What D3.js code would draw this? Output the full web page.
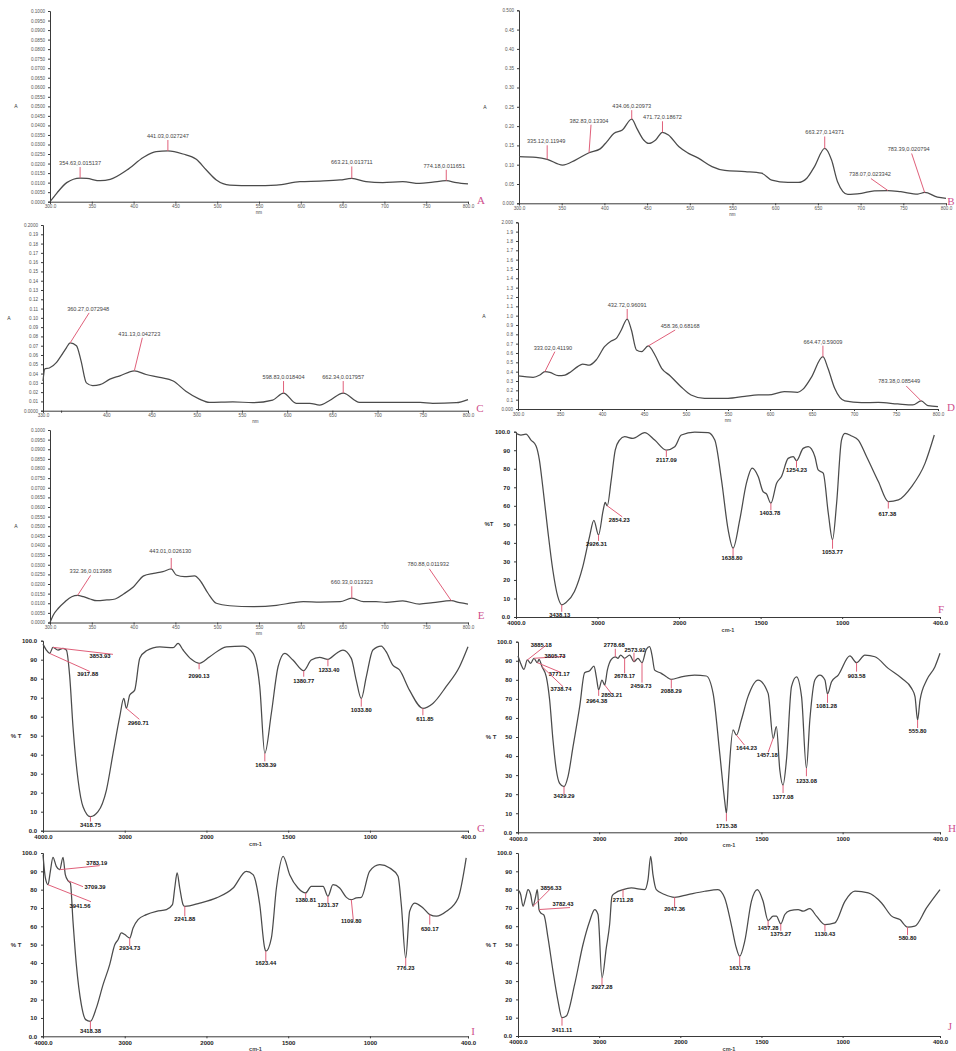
<!DOCTYPE html>
<html>
<head>
<meta charset="utf-8">
<script src="https://cdn.jsdelivr.net/npm/d3@7"></script>
<style>
  body { margin: 0; background: #fff; }
  svg { display: block; }
  text { font-family: "Liberation Sans", Arial, sans-serif; }
</style>
</head>
<body>
<svg id="fig" width="956" height="1051"></svg>
<script>
// tick values
const uvTicks = [300, 350, 400, 450, 500, 550, 600, 650, 700, 750, 800];
const uvTicksC = [330, 350, 400, 450, 500, 550, 600, 650, 700, 750, 800];
const irTicks = [4000, 3000, 2000, 1500, 1000, 400];

// UV-Vis spectra: [wavelength nm, absorbance]
const specA = [[300,0],[308,0.0044],[320,0.0100],[336,0.0124],[344,0.0122],[360,0.0110],[372,0.0117],[392,0.0166],
  [412,0.0233],[427,0.0262],[441,0.0266],[459,0.0250],[475,0.0222],[487,0.0166],[499,0.0114],[515,0.0087],
  [543,0.0084],[571,0.0087],[599,0.0105],[623,0.0108],[647,0.0114],[661,0.0122],[678,0.0105],[698,0.0100],
  [722,0.0105],[742,0.0096],[758,0.0103],[774,0.0110],[786,0.0100],[800,0.0093]];
const specB = [[300,0.121],[320,0.119],[333,0.114],[351,0.099],[366,0.112],[382,0.131],[395,0.141],[403,0.160],
  [411,0.181],[421,0.190],[432,0.218],[438,0.194],[446,0.164],[452,0.155],[460,0.164],[468,0.184],[475,0.177],
  [487,0.147],[498,0.130],[510,0.117],[526,0.095],[541,0.085],[565,0.082],[584,0.078],[596,0.060],[615,0.054],
  [627,0.054],[637,0.065],[646,0.095],[658,0.142],[666,0.112],[673,0.056],[685,0.023],[701,0.026],[716,0.032],
  [732,0.033],[747,0.030],[767,0.024],[775,0.028],[790,0.016],[800,0.013]];
const specC = [[330,0.032],[332,0.045],[337,0.046],[345,0.052],[350,0.059],[356,0.068],[360,0.073],[367,0.070],
  [372,0.054],[378,0.030],[385,0.027],[393,0.028],[404,0.034],[415,0.0375],[431,0.043],[444,0.039],[459,0.036],
  [474,0.032],[488,0.021],[503,0.0125],[514,0.009],[540,0.0096],[562,0.0086],[584,0.0114],[596,0.019],
  [610,0.008],[625,0.008],[636,0.006],[647,0.011],[662,0.019],[680,0.009],[706,0.009],[747,0.009],[761,0.008],
  [787,0.0086],[800,0.012]];
const specD = [[300,0.354],[318,0.339],[326,0.364],[332,0.400],[338,0.393],[348,0.357],[356,0.364],[363,0.400],
  [371,0.454],[377,0.482],[385,0.471],[393,0.525],[403,0.668],[411,0.729],[417,0.757],[423,0.846],[430,0.964],
  [435,0.846],[441,0.632],[447,0.614],[455,0.675],[463,0.579],[471,0.436],[481,0.357],[494,0.239],[506,0.150],
  [522,0.114],[550,0.114],[570,0.136],[586,0.150],[598,0.150],[617,0.186],[633,0.179],[639,0.210],[649,0.336],
  [663,0.561],[669,0.436],[677,0.221],[689,0.086],[709,0.068],[729,0.071],[752,0.054],[770,0.043],[780,0.086],
  [788,0.036],[800,0.025]];
const specE = [[300,0],[304,0.0039],[310,0.0074],[318,0.0108],[326,0.0134],[333,0.0141],[340,0.0134],[348,0.0122],
  [356,0.0113],[368,0.0117],[378,0.0122],[388,0.0148],[400,0.0186],[412,0.0242],[424,0.0255],[435,0.0264],
  [445,0.0278],[451,0.0247],[461,0.0238],[473,0.0242],[479,0.0221],[489,0.0152],[499,0.0100],[515,0.0087],
  [543,0.0082],[571,0.0089],[591,0.0103],[603,0.0108],[623,0.0106],[647,0.0108],[661,0.0126],[675,0.0108],
  [690,0.0108],[702,0.0105],[722,0.0112],[742,0.0096],[758,0.0103],[780,0.0113],[790,0.0103],[800,0.0096]];

// FTIR spectra: [wavenumber cm-1, %T]
const specF = [[4000,99.1],[3939,98.2],[3877,98.7],[3816,95.5],[3754,92.3],[3713,84.7],[3672,70.4],[3611,47.0],
  [3549,25.5],[3488,11.1],[3439,6.6],[3385,7.9],[3283,13.8],[3180,27.3],[3098,43.4],[3045,52.1],[2988,44.3],
  [2930,57.8],[2906,61.8],[2881,60.0],[2832,74.0],[2783,90.1],[2730,95.5],[2668,97.3],[2566,96.4],[2422,99.5],
  [2299,95.5],[2156,90.1],[2053,91.9],[1986,98.2],[1904,99.8],[1822,99.5],[1781,95.5],[1740,74.0],[1699,47.0],
  [1669,37.2],[1628,52.4],[1587,72.2],[1552,80.3],[1515,75.8],[1485,67.7],[1464,66.4],[1437,61.4],[1402,72.2],
  [1372,75.8],[1331,85.6],[1300,86.5],[1280,84.4],[1239,91.0],[1208,91.9],[1167,86.5],[1147,79.4],[1116,77.6],
  [1085,56.0],[1059,41.7],[1034,61.4],[1004,95.5],[983,99.1],[942,97.7],[901,95.5],[850,86.5],[778,73.1],
  [717,62.3],[655,63.2],[574,70.4],[492,82.9],[435,98.2]];
const specG = [[4000,98.2],[3959,95.1],[3918,93.3],[3878,96.5],[3816,95.1],[3755,96.0],[3714,95.1],[3673,81.1],
  [3633,54.7],[3571,26.7],[3510,12.6],[3420,7.4],[3327,10.0],[3224,21.4],[3143,40.7],[3061,60.0],[3012,69.6],
  [2980,64.4],[2939,71.4],[2878,74.0],[2816,90.7],[2735,94.7],[2571,96.8],[2408,96.3],[2347,98.6],[2286,95.1],
  [2184,90.2],[2090,88.1],[1980,91.6],[1878,96.8],[1776,97.2],[1715,93.3],[1674,75.8],[1643,40.7],[1603,61.8],
  [1562,86.3],[1521,93.3],[1471,89.8],[1405,84.2],[1359,89.8],[1308,91.2],[1257,90.2],[1206,93.3],[1165,95.1],
  [1114,90.7],[1084,79.3],[1053,69.5],[1022,81.1],[982,95.1],[931,97.2],[901,94.2],[860,87.2],[819,84.6],
  [758,74.0],[676,64.4],[615,67.0],[534,75.8],[452,86.3],[400,96.8]];
const specH = [[4000,92.5],[3967,88.6],[3926,85.5],[3885,90.4],[3844,88.6],[3803,91.3],[3762,89.0],[3741,90.7],
  [3704,86.9],[3651,81.6],[3610,69.4],[3569,48.4],[3528,32.7],[3487,25.7],[3433,24.0],[3384,29.2],[3322,44.9],
  [3240,65.9],[3179,83.7],[3117,84.8],[3064,87.2],[3035,81.6],[3006,74.7],[2965,79.9],[2932,77.3],[2899,85.1],
  [2850,90.7],[2801,92.1],[2768,91.3],[2735,93.0],[2686,91.3],[2624,93.0],[2571,89.5],[2522,91.3],[2472,89.0],
  [2419,96.0],[2378,97.4],[2349,93.0],[2316,85.1],[2234,83.4],[2172,81.6],[2111,80.2],[1994,81.6],[1912,82.5],
  [1840,82.0],[1798,72.9],[1757,41.4],[1726,16.1],[1716,10.0],[1702,29.2],[1675,53.7],[1654,51.0],[1624,58.9],
  [1583,71.2],[1521,79.9],[1459,72.9],[1428,49.3],[1408,55.4],[1387,32.7],[1367,24.8],[1346,37.9],[1315,76.4],
  [1284,81.6],[1253,71.2],[1223,33.6],[1202,58.9],[1171,79.9],[1140,82.5],[1109,79.9],[1093,72.6],[1068,79.0],
  [1027,82.5],[955,92.5],[914,89.0],[863,93.0],[801,92.1],[719,86.0],[636,80.8],[575,75.5],[554,71.2],
  [538,58.9],[523,69.4],[482,79.9],[431,86.9],[400,93.9]];
const specI = [[4000,99.1],[3971,86.4],[3939,82.7],[3910,90.0],[3878,97.6],[3837,92.7],[3796,90.9],[3755,97.6],
  [3727,88.2],[3694,84.9],[3665,83.6],[3633,62.7],[3592,39.1],[3531,17.3],[3478,9.1],[3420,8.2],[3347,15.5],
  [3265,28.2],[3184,39.1],[3122,50.0],[3082,52.7],[3041,56.4],[3000,55.5],[2939,53.6],[2898,59.1],[2837,63.6],
  [2735,66.4],[2612,68.2],[2490,69.1],[2416,71.8],[2388,80.9],[2359,89.1],[2327,80.9],[2286,71.8],[2265,70.9],
  [2082,72.7],[1939,75.5],[1837,80.9],[1756,90.0],[1715,88.2],[1674,71.8],[1644,48.2],[1637,46.4],[1603,53.6],
  [1572,80.9],[1531,98.2],[1491,88.2],[1440,80.9],[1393,78.2],[1359,81.8],[1287,81.8],[1257,76.4],[1226,82.7],
  [1185,80.9],[1144,75.8],[1114,74.5],[1083,75.5],[1053,75.8],[1002,90.0],[940,93.6],[879,91.8],[828,87.3],
  [808,71.8],[781,42.7],[757,68.2],[726,72.7],[675,70.0],[634,66.4],[593,65.5],[532,68.2],[460,75.5],[411,97.3]];
const specJ = [[4000,80.0],[3967,77.3],[3938,70.9],[3906,75.5],[3877,80.0],[3844,77.3],[3815,70.9],[3786,75.5],
  [3762,80.0],[3741,69.1],[3721,67.3],[3680,66.0],[3630,53.6],[3569,35.5],[3507,19.1],[3458,10.0],[3405,10.9],
  [3302,28.2],[3199,50.0],[3117,62.7],[3055,69.1],[3014,66.4],[2965,31.8],[2912,48.2],[2871,60.9],[2842,76.4],
  [2801,78.2],[2706,80.0],[2604,80.9],[2439,80.0],[2398,85.5],[2365,98.2],[2337,88.2],[2296,80.0],[2193,77.3],
  [2070,75.8],[1953,77.3],[1850,79.1],[1768,80.0],[1727,75.5],[1686,60.9],[1655,48.2],[1634,43.6],[1603,51.8],
  [1562,73.6],[1525,80.0],[1490,73.6],[1459,63.1],[1428,65.5],[1408,65.5],[1381,61.3],[1356,66.4],[1325,68.5],
  [1274,69.1],[1243,68.2],[1202,69.6],[1161,65.5],[1109,60.9],[1048,61.8],[986,73.6],[924,79.1],[842,78.2],
  [760,72.7],[698,65.5],[647,63.6],[600,59.5],[555,60.0],[483,70.0],[400,80.0]];

// picked peaks: [x, y, label]
const peaksA = [[336,0.0124,"354.63,0.015137"],[441,0.0266,"441.03,0.027247"],[661,0.0122,"663.21,0.013711"],[774,0.0110,"774.18,0.011651"]];
const peaksB = [[333,0.114,"335.12,0.11949"],[382,0.131,"382.83,0.13304"],[432,0.218,"434.06,0.20973"],[468,0.184,"471.72,0.18672"],
  [658,0.142,"663.27,0.14371"],[732,0.033,"738.07,0.023342"],[775,0.028,"783.39,0.020794"]];
const peaksC = [[360,0.073,"360.27,0.072948"],[431,0.043,"431.13,0.042723"],[596,0.019,"598.83,0.018404"],[662,0.019,"662.34,0.017957"]];
const peaksD = [[332,0.400,"333.02,0.41190"],[430,0.964,"432.72,0.96091"],[455,0.675,"458.36,0.68168"],[663,0.561,"664.47,0.59009"],[780,0.086,"783.38,0.085449"]];
const peaksE = [[333,0.0141,"332.36,0.013988"],[445,0.0278,"443.01,0.026130"],[661,0.0126,"660.33,0.013323"],[780,0.0113,"780.88,0.011932"]];
const peaksF = [[3439,6.6,"3438.13"],[2988,44.3,"2926.31"],[2881,60.0,"2854.23"],[2156,90.1,"2117.09"],[1669,37.2,"1638.80"],
  [1437,61.4,"1403.78"],[1280,84.4,"1254.23"],[1059,41.7,"1053.77"],[717,62.3,"617.38"]];
const peaksG = [[3918,93.3,"3917.88"],[3878,96.5,"3853.93"],[3420,7.4,"3418.75"],[2980,64.4,"2960.71"],[2090,88.1,"2090.13"],
  [1643,40.7,"1638.39"],[1405,84.2,"1380.77"],[1257,90.2,"1233.40"],[1053,69.5,"1033.80"],[676,64.4,"611.85"]];
const peaksH = [[3885,90.4,"3885.18"],[3803,91.3,"3805.73"],[3762,89.0,"3771.17"],[3704,86.9,"3738.74"],[3433,24.0,"3429.29"],
  [3006,74.7,"2964.38"],[2932,77.3,"2853.21"],[2801,92.1,"2778.68"],[2686,91.3,"2678.17"],[2571,89.5,"2573.92"],
  [2472,89.0,"2459.73"],[2111,80.2,"2088.29"],[1716,10.0,"1715.38"],[1654,51.0,"1644.23"],[1428,49.3,"1457.18"],
  [1367,24.8,"1377.08"],[1223,33.6,"1233.08"],[1093,72.6,"1081.28"],[914,89.0,"903.58"],[538,58.9,"555.80"]];
const peaksI = [[3939,82.7,"3941.56"],[3796,90.9,"3783.19"],[3694,84.9,"3709.39"],[3420,8.2,"3418.38"],[2939,53.6,"2934.73"],
  [2265,70.9,"2241.88"],[1637,46.4,"1623.44"],[1393,78.2,"1380.81"],[1257,76.4,"1231.37"],[1114,74.5,"1109.80"],
  [781,42.7,"776.23"],[634,66.4,"630.17"]];
const peaksJ = [[3815,70.9,"3856.33"],[3741,69.1,"3782.43"],[3458,10.0,"3411.11"],[2965,31.8,"2927.28"],[2706,80.0,"2711.28"],
  [2070,75.8,"2047.36"],[1634,43.6,"1631.78"],[1459,63.1,"1457.28"],[1381,61.3,"1375.27"],[1109,60.9,"1130.43"],[600,59.5,"580.80"]];

// label leader layout, px relative to the peak: [lineDx, lineDy, textDx, textDy]
const leadsA = [[0,-11,0,-13],[0,-11,0,-13],[0,-12,0,-14],[0,-11,-2,-13]];
const leadsB = [[0,-14,-1,-16],[2,-28,0,-30],[0,-9,0,-11],[0,-11,0,-13],[0,-12,0,-14],[-17,-12,-18,-15],[-13,-39,-16,-41]];
const leadsC = [[19,-30,18,-32],[8,-33,5,-35],[0,-12,0,-14],[0,-12,0,-14]];
const leadsD = [[10,-20,8,-22],[0,-10,0,-12],[27,-16,32,-18],[0,-11,0,-13],[-15,-15,-22,-18]];
const leadsE = [[13,-20,13,-22],[0,-11,-1,-16],[0,-12,0,-14],[-22,-32,-23,-35]];
const leadsF = [[0,7,-2,12],[0,6,-2,11],[15,11,12,16],[0,7,0,12],[0,8,-1,12],[0,7,-1,12],[0,7,0,11],[0,9,0,14],[0,7,-1,14]];
const leadsG = [[40,18,38,23],[60,7,47,11],[0,5,0,10],[13,11,12,17],[0,6,0,15],[0,8,1,14],[0,6,0,12],[0,7,1,13],[0,8,0,13],[0,7,2,13]];
const leadsH = [[19,-15,14,-13],[31,-2,21,0],[24,10,22,13],[21,20,19,24],[0,8,0,11],[0,6,-2,13],[7,9,7,12],[0,-8,-1,-10],
  [0,15,0,20],[0,-9,1,-10],[0,20,-1,25],[0,9,0,14],[0,8,0,15],[8,10,10,15],[-5,14,-6,19],[0,8,0,14],[0,8,0,15],
  [0,9,-1,14],[0,9,0,15],[0,8,0,13]];
const leadsI = [[43,17,32,23],[40,-4,37,-5],[15,6,27,8],[0,8,0,12],[0,8,0,12],[0,10,0,15],[0,10,0,14],[0,5,0,9],
  [0,7,0,11],[2,20,0,23],[0,8,0,12],[0,10,0,16]];
const leadsJ = [[17,-17,18,-16],[31,-2,24,-4],[0,8,0,14],[0,8,0,11],[0,8,0,12],[0,10,0,14],[0,10,0,14],[0,7,0,9],
  [0,7,0,12],[0,7,0,11],[0,8,0,13]];

const IR_SPLIT = 2000 / 5200;  // 4000-2000 drawn at half the scale of 2000-400
const curveColor = "#4b4b4b";
const markColor = "#e0607a";
const letterColor = "#cf4f8d";

const endFmt = (dec, mid) => (d, i, arr) => (i === 0 || i === arr.length - 1) ? d.toFixed(dec) : mid(d);

const panels = [
  { key: "A", data: specA, peaks: peaksA, leads: leadsA, box: [50, 468, 11, 201.7], xDom: [300, 800], xTicks: uvTicks,
    yDom: [0, 0.1], yN: 20, yFmt: endFmt(4, d => d.toFixed(4)), letter: [481, 204] },
  { key: "B", data: specB, peaks: peaksB, leads: leadsB, box: [519, 946, 10.3, 203.3], xDom: [300, 800], xTicks: uvTicks,
    yDom: [0, 0.5], yN: 10, yFmt: endFmt(3, d => d.toFixed(2)), letter: [951, 205] },
  { key: "C", data: specC, peaks: peaksC, leads: leadsC, box: [43, 468, 225, 410.7], xDom: [330, 800], xTicks: uvTicksC,
    yDom: [0, 0.2], yN: 20, yFmt: endFmt(4, d => d.toFixed(2)), letter: [480, 412] },
  { key: "D", data: specD, peaks: peaksD, leads: leadsD, box: [518, 938, 222.3, 409], xDom: [300, 800], xTicks: uvTicks,
    yDom: [0, 2], yN: 20, yFmt: endFmt(3, d => d.toFixed(1)), letter: [951, 411] },
  { key: "E", data: specE, peaks: peaksE, leads: leadsE, box: [50, 468, 430, 622.5], xDom: [300, 800], xTicks: uvTicks,
    yDom: [0, 0.1], yN: 20, yFmt: endFmt(4, d => d.toFixed(4)), letter: [481, 619] },
  { key: "F", ir: true, data: specF, peaks: peaksF, leads: leadsF, box: [516, 940, 431.7, 617], letter: [941, 613] },
  { key: "G", ir: true, data: specG, peaks: peaksG, leads: leadsG, box: [43, 468, 640.7, 830.7], letter: [481, 832] },
  { key: "H", ir: true, data: specH, peaks: peaksH, leads: leadsH, box: [518, 940, 641.7, 832.3], letter: [952, 832] },
  { key: "I", ir: true, data: specI, peaks: peaksI, leads: leadsI, box: [43, 468, 853, 1036.3], letter: [473, 1035] },
  { key: "J", ir: true, data: specJ, peaks: peaksJ, leads: leadsJ, box: [518, 940, 853, 1036], letter: [950, 1030] }
];

const svg = d3.select("#fig");
svg.append("rect").attr("width", 956).attr("height", 1051).attr("fill", "#fff");

panels.forEach(p => drawPanel(p));

function drawPanel(p) {
  const [x0, x1, y0, y1] = p.box;
  const g = svg.append("g").attr("class", "panel-" + p.key);

  let x, y, yTicks, xFmt, yFmt;
  if (p.ir) {
    x = d3.scaleLinear().domain([4000, 2000, 400]).range([x0, x0 + (x1 - x0) * IR_SPLIT, x1]);
    y = d3.scaleLinear().domain([0, 100]).range([y1, y0]);
    yTicks = d3.range(0, 11).map(i => i * 10);
    yFmt = (d, i, a) => (d === 0 || d === 100) ? d.toFixed(1) : String(d);
    xFmt = (d, i, a) => (i === 0 || i === a.length - 1) ? d.toFixed(1) : String(d);
  } else {
    x = d3.scaleLinear().domain(p.xDom).range([x0, x1]);
    y = d3.scaleLinear().domain(p.yDom).range([y1, y0]);
    yTicks = d3.range(0, p.yN + 1).map(i => p.yDom[0] + i * (p.yDom[1] - p.yDom[0]) / p.yN);
    yFmt = p.yFmt;
    xFmt = (d, i, a) => (i === 0 || i === a.length - 1) ? d.toFixed(1) : (p.key === "C" && d === 350 ? "" : String(d));
  }
  const xTickVals = p.ir ? irTicks : p.xTicks;

  // y axis
  const ya = g.append("g").attr("transform", `translate(${x0},0)`)
    .call(d3.axisLeft(y).tickValues(yTicks).tickSize(2).tickPadding(p.ir ? 4 : 3)
      .tickFormat((d, i) => yFmt(d, i, yTicks)));
  // x axis
  const xa = g.append("g").attr("transform", `translate(0,${y1})`)
    .call(d3.axisBottom(x).tickValues(xTickVals).tickSize(2).tickPadding(p.ir ? 2 : 1.5)
      .tickFormat((d, i) => xFmt(d, i, xTickVals)));

  [ya, xa].forEach(a => {
    a.select(".domain").attr("stroke", "#3a3a3a").attr("stroke-width", 1);
    a.selectAll(".tick line").attr("stroke", "#3a3a3a");
    a.selectAll(".tick text")
      .attr("fill", p.ir ? "#222" : "#555")
      .style("font-size", p.ir ? "6px" : "4.6px")
      .style("font-weight", p.ir ? "bold" : "normal");
  });

  // axis titles
  g.append("text")
    .attr("x", x0 - (p.ir ? 27 : 34)).attr("y", (y0 + y1) / 2 + 2)
    .attr("text-anchor", "middle")
    .style("font-size", p.ir ? "6px" : "5px")
    .style("font-weight", p.ir ? "bold" : "normal")
    .attr("fill", "#333")
    .text(p.ir ? (p.key === "F" ? "%T" : "% T") : "A");
  g.append("text")
    .attr("x", (x0 + x1) / 2).attr("y", y1 + (p.ir ? 15 : 12.5))
    .attr("text-anchor", "middle")
    .style("font-size", p.ir ? "5.5px" : "4.5px")
    .style("font-weight", p.ir ? "bold" : "normal")
    .attr("fill", "#444")
    .text(p.ir ? "cm-1" : "nm");

  // spectrum
  const line = d3.line().x(d => x(d[0])).y(d => y(d[1])).curve(d3.curveMonotoneX);
  g.append("path")
    .datum(p.data)
    .attr("d", line)
    .attr("fill", "none")
    .attr("stroke", curveColor)
    .attr("stroke-width", 1.25)
    .attr("stroke-linejoin", "round");

  // peak markers and labels
  p.peaks.forEach((pk, i) => {
    const [dx, dy, tx, ty] = p.leads[i];
    const px = x(pk[0]), py = y(pk[1]);
    g.append("line")
      .attr("x1", px).attr("y1", py)
      .attr("x2", px + dx).attr("y2", py + dy)
      .attr("stroke", markColor).attr("stroke-width", 1);
    g.append("text")
      .attr("x", px + tx).attr("y", py + ty)
      .attr("text-anchor", "middle")
      .style("font-size", p.ir ? "5.8px" : "5.6px")
      .style("font-weight", p.ir ? "bold" : "normal")
      .attr("fill", p.ir ? "#111" : "#444")
      .text(pk[2]);
  });

  // panel letter
  g.append("text")
    .attr("x", p.letter[0]).attr("y", p.letter[1])
    .attr("text-anchor", "middle")
    .style("font-family", '"Liberation Serif", "DejaVu Serif", serif')
    .style("font-size", "11px")
    .attr("fill", letterColor)
    .text(p.key);
}
</script>
</body>
</html>
